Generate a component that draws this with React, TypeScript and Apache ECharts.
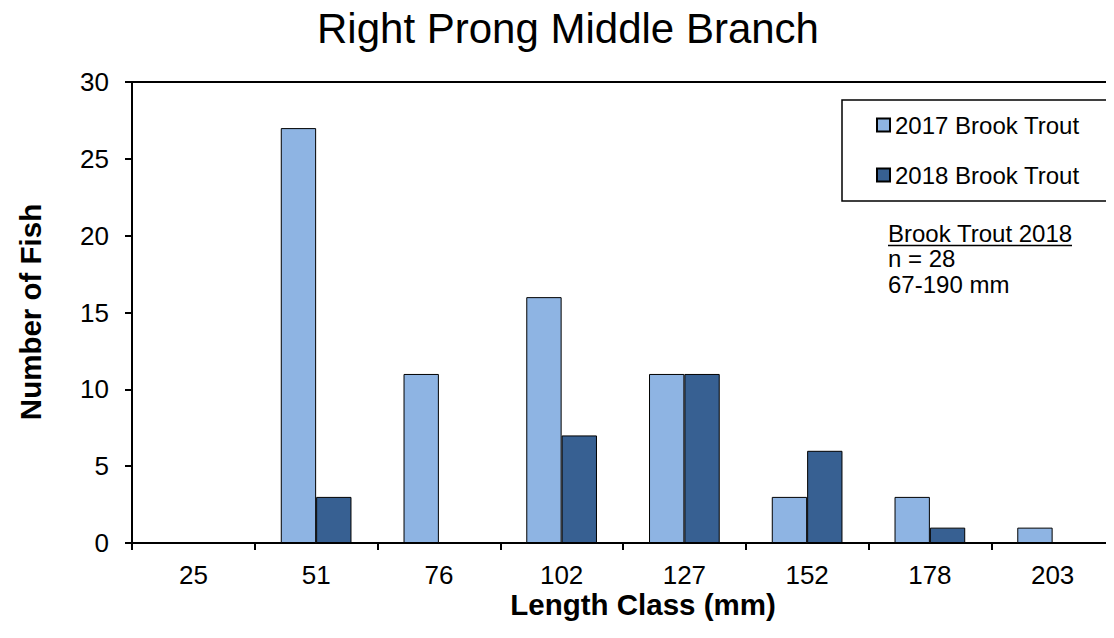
import React, { useEffect, useRef } from "react";
import * as echarts from "echarts";

const categories = ["25", "51", "76", "102", "127", "152", "178", "203"];
const trout2017 = [0, 27, 11, 16, 11, 3, 3, 1];
const trout2018 = [0, 3, 0, 7, 11, 6, 1, 0];
const seriesNames = ["2017 Brook Trout", "2018 Brook Trout"];
const noteLines = ["Brook Trout 2018", "n = 28", "67-190 mm"];
const FONT = "Liberation Sans, Arial, sans-serif";

export default function App() {
  const ref = useRef<HTMLDivElement>(null);
  useEffect(() => {
    const chart = echarts.init(ref.current!, null, { renderer: "svg" });
    chart.setOption({
      animation: false,
      textStyle: { fontFamily: FONT, color: "#000" },
      title: {
        text: "Right Prong Middle Branch",
        left: 563,
        textAlign: "center",
        top: 2,
        textStyle: { fontSize: 42, fontWeight: "normal", color: "#000", fontFamily: FONT },
      },
      grid: {
        left: 132,
        right: -9,
        top: 82,
        bottom: 95,
        show: true,
        borderColor: "#000",
        borderWidth: 2,
        containLabel: false,
      },
      legend: {
        orient: "vertical",
        left: 842,
        top: 100,
        padding: [13, 39, 14, 34],
        itemGap: 26,
        itemWidth: 13,
        itemHeight: 13,
        icon: "rect",
        borderColor: "#000",
        borderWidth: 1.5,
        backgroundColor: "#fff",
        textStyle: { fontSize: 24, color: "#000", fontFamily: FONT, lineHeight: 24 },
        data: seriesNames,
      },
      xAxis: {
        type: "category",
        data: categories,
        axisLine: { lineStyle: { color: "#000", width: 2 } },
        axisTick: { show: true, length: 7, lineStyle: { color: "#000", width: 2 } },
        axisLabel: { fontSize: 26, color: "#000", margin: 19, fontFamily: FONT },
        splitLine: { show: false },
      },
      yAxis: {
        type: "value",
        min: 0,
        max: 30,
        interval: 5,
        axisLine: { show: true, lineStyle: { color: "#000", width: 2 } },
        axisTick: { show: true, length: 7, lineStyle: { color: "#000", width: 2 } },
        axisLabel: { fontSize: 26, color: "#000", margin: 23, fontFamily: FONT },
        splitLine: { show: false },
      },
      series: [
        {
          name: seriesNames[0],
          type: "bar",
          data: trout2017,
          barGap: "0%",
          barCategoryGap: "42.4%",
          itemStyle: { color: "#8EB4E3", borderColor: "#000", borderWidth: 1 },
        },
        {
          name: seriesNames[1],
          type: "bar",
          data: trout2018,
          itemStyle: { color: "#376092", borderColor: "#000", borderWidth: 1 },
        },
      ],
      graphic: [
        {
          type: "text",
          x: 30,
          y: 312,
          rotation: Math.PI / 2,
          style: {
            text: "Number of Fish",
            font: `bold 29.5px ${FONT}`,
            fill: "#000",
            textAlign: "center",
            textVerticalAlign: "middle",
          },
        },
        {
          type: "text",
          x: 643,
          y: 604,
          style: {
            text: "Length Class (mm)",
            font: `bold 29.5px ${FONT}`,
            fill: "#000",
            textAlign: "center",
            textVerticalAlign: "middle",
          },
        },
        ...noteLines.map((t, i) => ({
          type: "text",
          x: 888,
          y: 233 + i * 25.5,
          style: {
            text: t,
            font: `24px ${FONT}`,
            fill: "#000",
            textAlign: "left",
            textVerticalAlign: "middle",
          },
        })),
        {
          type: "line",
          shape: { x1: 888, y1: 245.5, x2: 1072, y2: 245.5 },
          style: { stroke: "#000", lineWidth: 1.3 },
        },
      ],
    });
    return () => chart.dispose();
  }, []);
  return <div ref={ref} style={{ width: 1114, height: 638, margin: -8 }} />;
}
